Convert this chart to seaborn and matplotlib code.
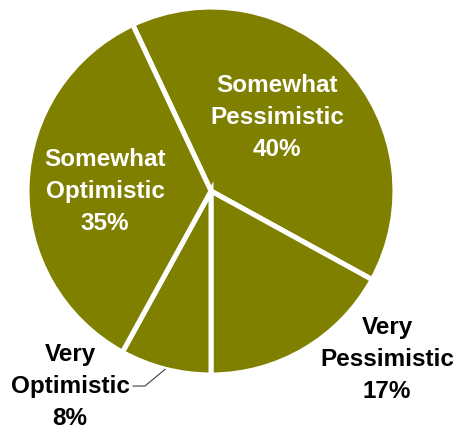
import numpy as np
import matplotlib
matplotlib.use("Agg")
import matplotlib.pyplot as plt
import seaborn as sns

# Survey outlook shares (percent), clockwise from the top-left
labels = ["Somewhat\nPessimistic", "Very\nPessimistic", "Very\nOptimistic", "Somewhat\nOptimistic"]
values = [40, 17, 8, 35]

sns.set_style("white")
plt.rcParams["font.family"] = ["Liberation Sans", "DejaVu Sans"]

fig = plt.figure(figsize=(4.61, 4.33), dpi=100)
ax = fig.add_axes([0, 0, 1, 1])

wedges, _ = ax.pie(values, colors=["#808000"] * len(values), startangle=115.2,
                   counterclock=False, radius=1.0,
                   wedgeprops=dict(edgecolor="white", linewidth=3.6))

# keep the pie where it sits in the original picture
ax.set_xlim(-1.147, 1.359)
ax.set_ylim(-1.315, 1.038)
ax.set_aspect("equal")
ax.axis("off")

font = dict(fontsize=17.5, fontweight="bold", ha="center", va="center", linespacing=1.5)

# label positions in pie-radius units: (x, y, colour)
label_pos = [(0.36, 0.40, "white"), (0.957, -0.918, "black"),
             (-0.766, -1.06, "black"), (-0.576, 0.0, "white")]

for lab, val, (x, y, c) in zip(labels, values, label_pos):
    ax.text(x, y, f"{lab}\n{val}%", color=c, **font)

# leader line for the small slice
w = wedges[2]
mid = np.deg2rad((w.theta1 + w.theta2) / 2)
tip = (np.cos(mid), np.sin(mid))
ax.plot([-0.424, -0.359, tip[0]], [-1.060, -1.060, tip[1]], color="#404040", lw=0.8)

fig.savefig("out.png", dpi=100)
